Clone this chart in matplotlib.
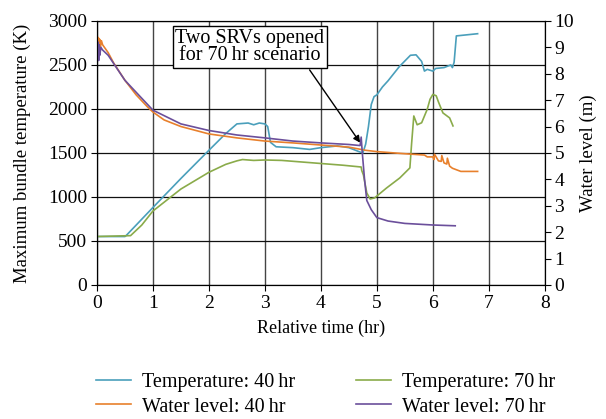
import numpy as np
import matplotlib
matplotlib.use("Agg")
import matplotlib.pyplot as plt

plt.rcParams['font.family'] = ['Liberation Serif', 'DejaVu Serif']
plt.rcParams['font.size'] = 14

# --- temperature, 40 hr scenario (K)
t_T40 = [0, 0.5, 0.52, 1.0, 1.5, 2.0, 2.3, 2.5, 2.7, 2.8, 2.9, 3.0, 3.05, 3.1, 3.2,
         3.5, 3.8, 4.0, 4.3, 4.5, 4.7, 4.75, 4.8, 4.85, 4.9, 4.95, 5.0, 5.1, 5.2,
         5.4, 5.6, 5.7, 5.8, 5.85, 5.9, 6.0, 6.05, 6.2, 6.32, 6.35, 6.38, 6.42, 6.8]
T40 = [550, 550, 560, 880, 1210, 1530, 1720, 1830, 1840, 1820, 1840, 1830, 1800, 1620, 1570,
       1560, 1540, 1560, 1580, 1560, 1510, 1500, 1600, 1800, 2050, 2140, 2160, 2250, 2320,
       2480, 2610, 2615, 2540, 2430, 2450, 2430, 2460, 2470, 2500, 2470, 2530, 2830, 2855]

# --- temperature, 70 hr scenario (K)
t_T70 = [0, 0.6, 0.8, 1.0, 1.5, 2.0, 2.3, 2.5, 2.6, 2.8, 3.0, 3.3, 3.6, 4.0, 4.4,
         4.72, 4.73, 4.76, 4.82, 4.88, 4.96, 5.17, 5.41, 5.59, 5.62, 5.66, 5.72, 5.8,
         5.9, 5.95, 6.0, 6.06, 6.1, 6.18, 6.3, 6.36]
T70 = [550, 560, 680, 840, 1090, 1280, 1370, 1410, 1425, 1415, 1420, 1415, 1400, 1380, 1360,
       1340, 1300, 1250, 1045, 977, 989, 1100, 1216, 1330, 1600, 1920, 1820, 1843,
       1996, 2110, 2165, 2150, 2080, 1955, 1898, 1807]

# --- water level, 40 hr scenario (m)
t_W40 = [0, 0.01, 0.02, 0.03, 0.04, 0.05, 0.06, 0.08, 0.1, 0.2, 0.3, 0.5, 0.7, 0.9, 1.0,
         1.2, 1.5, 2.0, 2.5, 3.0, 3.5, 4.0, 4.5, 4.8, 5.0, 5.5, 5.85, 5.9, 6.0, 6.02,
         6.03, 6.1, 6.15, 6.16, 6.2, 6.25, 6.26, 6.3, 6.35, 6.5, 6.8]
W40 = [9.0, 9.4, 9.0, 9.35, 8.9, 9.3, 9.0, 9.25, 9.1, 8.8, 8.4, 7.75, 7.2, 6.75, 6.55,
       6.25, 6.0, 5.72, 5.57, 5.45, 5.38, 5.3, 5.22, 5.1, 5.05, 4.97, 4.92, 4.85, 4.85, 4.75,
       4.95, 4.7, 4.68, 4.9, 4.62, 4.58, 4.8, 4.5, 4.42, 4.3, 4.3]

# --- water level, 70 hr scenario (m)
t_W70 = [0, 0.01, 0.02, 0.03, 0.04, 0.05, 0.07, 0.1, 0.2, 0.5, 1.0, 1.5, 2.0, 2.5, 3.0,
         3.5, 4.0, 4.5, 4.7, 4.72, 4.74, 4.78, 4.82, 4.9, 5.0, 5.2, 5.5, 6.0, 6.4]
W70 = [9.3, 8.6, 9.2, 8.5, 9.1, 8.7, 9.0, 8.9, 8.7, 7.75, 6.62, 6.1, 5.85, 5.68, 5.57,
       5.45, 5.38, 5.32, 5.28, 5.6, 5.0, 4.0, 3.2, 2.85, 2.55, 2.42, 2.33, 2.27, 2.24]

c_T40 = '#4a9fbb'
c_T70 = '#8aab4a'
c_W40 = '#e8802c'
c_W70 = '#6b4f9b'

fig = plt.figure(figsize=(6.06, 4.19), dpi=100)
ax = fig.add_axes([0.16, 0.32, 0.739, 0.63])
ax2 = ax.twinx()

l1, = ax.plot(t_T40, T40, color=c_T40, lw=1.2, label='Temperature: 40\u2009hr')
l3, = ax.plot(t_T70, T70, color=c_T70, lw=1.2, label='Temperature: 70\u2009hr')
l2, = ax2.plot(t_W40, W40, color=c_W40, lw=1.2, label='Water level: 40\u2009hr')
l4, = ax2.plot(t_W70, W70, color=c_W70, lw=1.2, label='Water level: 70\u2009hr')

ax.set_xlim(0, 8)
ax.set_ylim(0, 3000)
ax2.set_ylim(0, 10)
ax.set_xticks(range(0, 9))
ax.set_yticks(range(0, 3001, 500))
ax2.set_yticks(range(0, 11))

ax.xaxis.grid(True, color='#444444', lw=1.0)
ax.yaxis.grid(True, color='#111111', lw=0.9)
ax.set_axisbelow(True)
ax.tick_params(direction='out', length=4, color='black', labelsize=14, pad=3)
ax2.tick_params(direction='out', length=4, color='black', labelsize=14, pad=3)

ax.set_xlabel('Relative time (hr)', fontsize=13, labelpad=6)
ax.set_ylabel('Maximum bundle temperature (K)', fontsize=13.5, labelpad=12)
ax2.set_ylabel('Water level (m)', fontsize=13.5, labelpad=4)

ax.text(2.73, 2705, 'Two SRVs opened\nfor 70\u2009hr scenario', ha='center', va='center',
        linespacing=0.9, fontsize=14.5,
        bbox=dict(boxstyle='square,pad=0.12', fc='white', ec='black', lw=1))
ax.annotate('', xy=(4.73, 1590), xytext=(3.77, 2470),
            arrowprops=dict(arrowstyle='-|>', color='black', lw=1, mutation_scale=10))

fig.legend(handles=[l1, l2, l3, l4], ncol=2, loc='upper left',
           bbox_to_anchor=(0.158, 0.11), frameon=False, borderaxespad=0, borderpad=0,
           handlelength=1.75, columnspacing=3.0, labelspacing=0.27, handletextpad=0.55,
           fontsize=14.5)

fig.savefig('out.png', dpi=100)
